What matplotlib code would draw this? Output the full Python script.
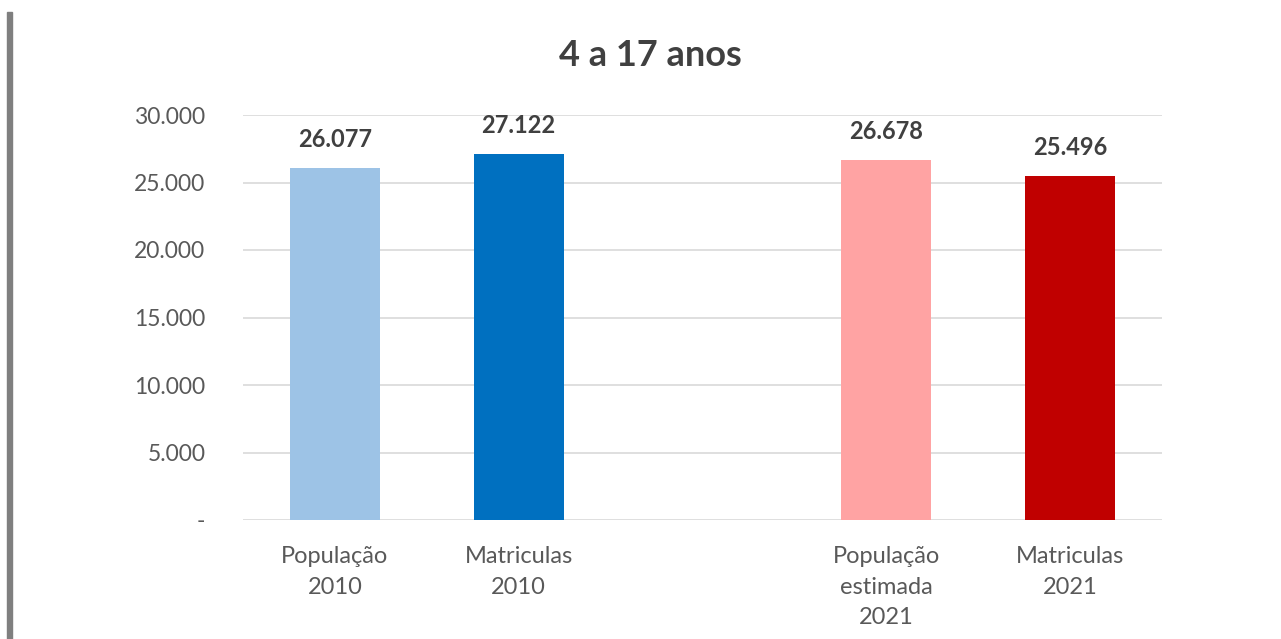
import matplotlib.pyplot as plt
from matplotlib.patches import Rectangle
import numpy as np

plt.rcParams['font.family'] = ['Lato', 'DejaVu Sans']

title = '4 a 17 anos'
categories = ['População\n2010', 'Matriculas\n2010', '',
              'População\nestimada\n2021', 'Matriculas\n2021']
values = [26077, 27122, None, 26678, 25496]
colors = ['#9DC3E6', '#0070C0', None, '#FFA3A3', '#C00000']
yticks = [0, 5000, 10000, 15000, 20000, 25000, 30000]
ytick_labels = ['-', '5.000', '10.000', '15.000', '20.000', '25.000', '30.000']

fig = plt.figure(figsize=(12.81, 6.39), dpi=100)
ax = fig.add_axes([243 / 1281, 1 - 520 / 639, (1162 - 243) / 1281, (520 - 115) / 639])

# left border strip of the original screenshot
fig.patches.append(Rectangle((7 / 1281, 0), 5 / 1281, 1 - 12 / 639,
                             transform=fig.transFigure, color='#7F7F7F', zorder=0))

x = np.arange(len(categories))
for xi, v, c in zip(x, values, colors):
    if v is None:
        continue
    ax.bar(xi, v, width=0.49, color=c, zorder=2)
    ax.annotate(f'{v:,}'.replace(',', '.'), (xi, v), xytext=(0, 12),
                textcoords='offset points', ha='center', va='bottom',
                fontsize=17, fontweight='bold', color='#404040')

ax.set_xlim(-0.5, 4.5)
ax.set_ylim(0, 30000)
ax.set_yticks(yticks)
ax.set_yticklabels(ytick_labels, fontsize=16.5, color='#595959')
ax.set_xticks(x)
ax.set_xticklabels(categories, fontsize=17, color='#595959', linespacing=1.55,
                   va='top')
ax.tick_params(length=0)
ax.tick_params(axis='y', pad=27)
ax.tick_params(axis='x', pad=19)
ax.grid(axis='y', color='#D9D9D9', linewidth=1.2, zorder=0)
for s in ax.spines.values():
    s.set_visible(False)

fig.text(650 / 1281, 1 - 55 / 639, title, ha='center', va='center',
         fontsize=26, fontweight='bold', color='#404040')

fig.savefig('out.png', dpi=100)
